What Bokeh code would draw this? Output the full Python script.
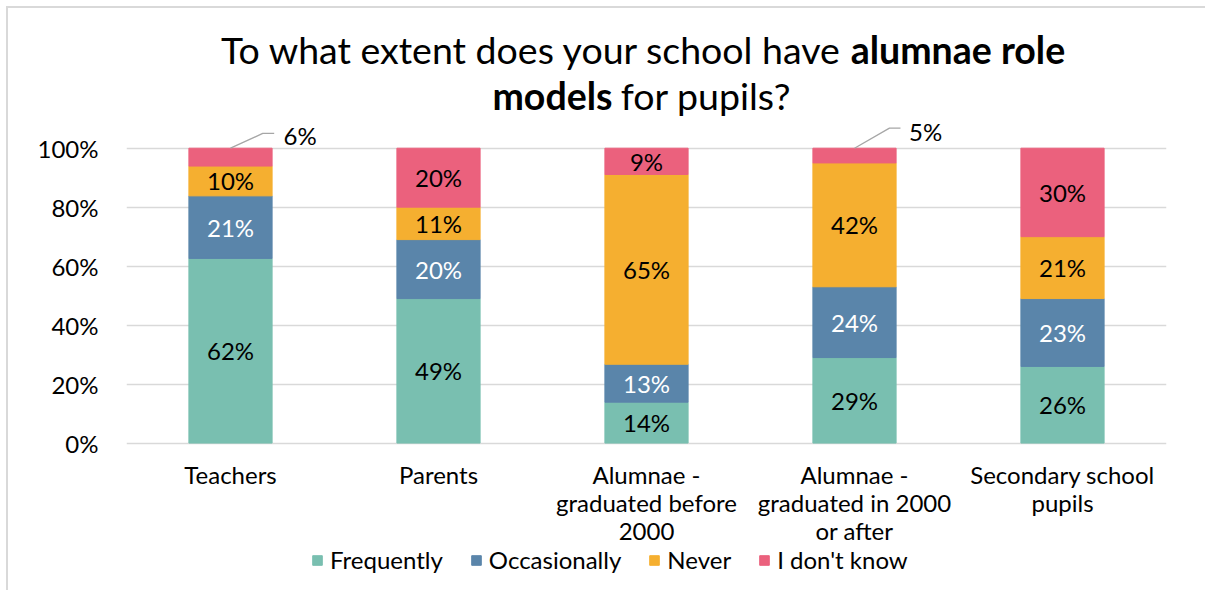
from bokeh.plotting import figure
from bokeh.models import (FactorRange, Legend, LegendItem, ColumnDataSource,
                          NumeralTickFormatter, FixedTicker)
from bokeh.embed import file_html
from bokeh.resources import INLINE
from bokeh.core.properties import value

# ---------------- data ----------------
categories = ["Teachers", "Parents", "Alumnae -\ngraduated before\n2000",
              "Alumnae -\ngraduated in 2000\nor after", "Secondary school\npupils"]
series = ["Frequently", "Occasionally", "Never", "I don't know"]
frequently = [62, 49, 14, 29, 26]
occasionally = [21, 20, 13, 24, 23]
never = [10, 11, 65, 42, 21]
dont_know = [6, 20, 9, 5, 30]
y_ticks = [0, 0.2, 0.4, 0.6, 0.8, 1.0]

colors = ["#79BFB0", "#5A85AA", "#F5AF30", "#EB617D"]
label_colors = ["black", "white", "black", "black"]
FONT = "Lato"
FS = "24px"

raw = [frequently, occasionally, never, dont_know]
totals = [sum(v[i] for v in raw) for i in range(len(categories))]
norm = {s: [v[i] / totals[i] for i in range(len(categories))] for s, v in zip(series, raw)}

src = ColumnDataSource(dict(cat=categories, **norm))

Y_START, Y_END = -0.5, 1.45
p = figure(x_range=FactorRange(*categories), y_range=(Y_START, Y_END),
           frame_width=1040, frame_height=575,
           min_border_left=118, min_border_right=39,
           min_border_top=7, min_border_bottom=0,
           x_axis_location=None,
           output_backend="svg", toolbar_location=None)
p.styles = {"border-top": "2px solid #D9D9D9", "border-left": "2px solid #D9D9D9",
            "margin-left": "6px", "margin-top": "6px"}
p.outline_line_color = None
p.background_fill_color = "white"
p.border_fill_color = "white"

renderers = p.vbar_stack(series, x="cat", width=0.4, color=colors, source=src)

# axes / grid
p.xgrid.grid_line_color = None
p.ygrid.grid_line_color = "#D9D9D9"
p.ygrid.grid_line_width = 1.3
p.yaxis.ticker = FixedTicker(ticks=y_ticks)
p.yaxis.formatter = NumeralTickFormatter(format="0%")
ax = p.yaxis[0]
ax.axis_line_color = None
ax.major_tick_line_color = None
ax.minor_tick_line_color = None
ax.major_label_text_font = FONT
ax.major_label_text_font_size = FS
ax.major_label_text_color = "#000000"
ax.major_label_standoff = 22

# category labels (below the 0% line)
p.text(x=categories, y=[-0.058] * len(categories), text=categories,
       text_align="center", text_baseline="top", text_line_height=0.97,
       text_font=value(FONT), text_font_size=FS, text_color="black")

# data labels inside segments
lx, ly, lt, lc = [], [], [], []
callouts = []
for i, c in enumerate(categories):
    base = 0.0
    for k, s in enumerate(series):
        h = norm[s][i]
        val = raw[k][i]
        if val < 8:
            callouts.append((i, base + h, val))
        else:
            lx.append(c)
            ly.append(base + h / 2)
            lt.append(f"{val}%")
            lc.append(label_colors[k])
        base += h
p.text(x=lx, y=ly, text=lt, text_color=lc, text_align="center", text_baseline="middle",
       text_font=value(FONT), text_font_size=FS)

# callouts for small segments (leader lines)
offs = {0: (0.155, 0.05, 0.21, 0.255, 1.044), 3: (0.168, 0.068, 0.221, 0.262, 1.058)}
for i, top, val in callouts:
    cx = i + 0.5
    dx1, dy1, dx2, tdx, ty = offs.get(i, (0.16, 0.06, 0.215, 0.26, 1.05))
    p.line(x=[cx, cx + dx1, cx + dx2], y=[top, top + dy1, top + dy1],
           line_color="#A6A6A6", line_width=1.3)
    p.text(x=[cx + tdx], y=[ty], text=[f"{val}%"], text_align="left", text_baseline="middle",
           text_font=value(FONT), text_font_size=FS, text_color="black")

# title (mixed weights)
t1y, t2y = (443 - 49) / 295, (443 - 95) / 295
split1 = (846 - 126) / 208
split2 = (612 - 126) / 208
common = dict(text_font=value(FONT), text_font_size="37.5px", text_color="black",
              text_baseline="alphabetic")
p.text(x=[split1 - 0.02], y=[t1y], text=["To what extent does your school have"],
       text_align="right", **common)
p.text(x=[split1 + 0.02], y=[t1y], text=["alumnae role"], text_align="left",
       text_font_style="bold", **common)
p.text(x=[split2], y=[t2y], text=["models"], text_align="right",
       text_font_style="bold", **common)
p.text(x=[split2 + 0.04], y=[t2y], text=["for pupils?"], text_align="left", **common)

# legend
legend = Legend(items=[LegendItem(label=s, renderers=[r]) for s, r in zip(series, renderers)],
                orientation="horizontal", location=(185, 16),
                glyph_width=12, glyph_height=12, label_standoff=7, spacing=27,
                padding=0, margin=0, border_line_color=None, background_fill_alpha=0,
                label_text_font=FONT, label_text_font_size=FS, label_text_color="black")
p.add_layout(legend, "center")

open("out.html", "w").write(file_html(p, INLINE))
